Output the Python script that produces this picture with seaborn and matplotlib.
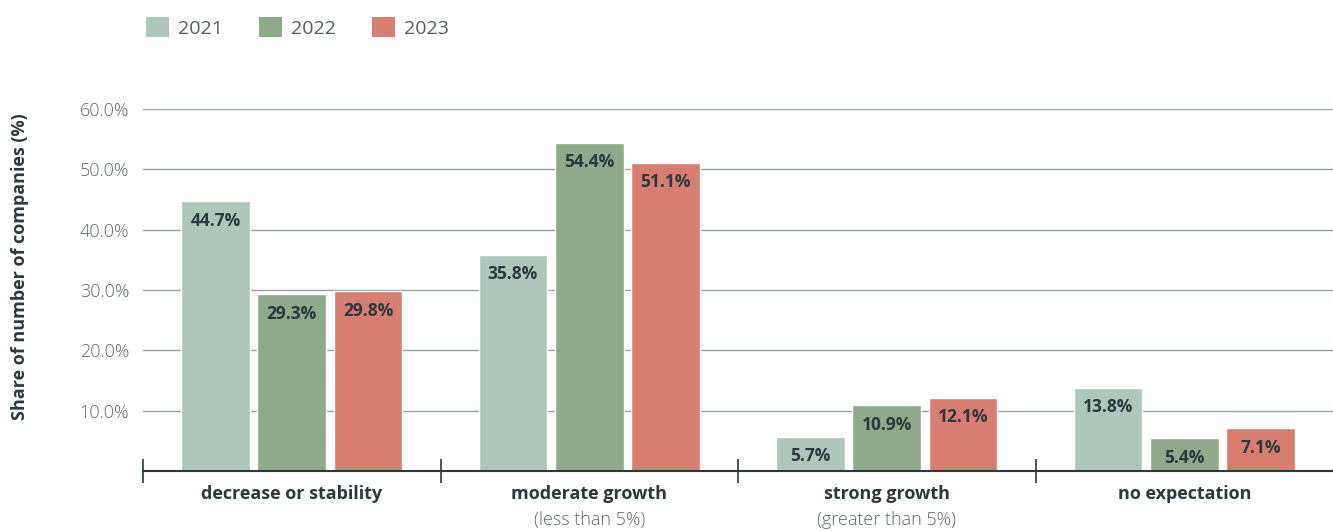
import matplotlib
matplotlib.use("Agg")
import matplotlib.pyplot as plt
import matplotlib.transforms as mtransforms
from matplotlib.patches import Patch
import seaborn as sns
import pandas as pd

categories = ["decrease or stability", "moderate growth", "strong growth", "no expectation"]
subtitles = ["", "(less than 5%)", "(greater than 5%)", ""]
years = ["2021", "2022", "2023"]
values_2021 = [44.7, 35.8, 5.7, 13.8]
values_2022 = [29.3, 54.4, 10.9, 5.4]
values_2023 = [29.8, 51.1, 12.1, 7.1]
yticks = [10, 20, 30, 40, 50, 60]

colors = ["#adc8ba", "#8faa8b", "#d77d72"]
dark = "#2b383d"
gray = "#62696c"

rows = []
for y, vals in zip(years, [values_2021, values_2022, values_2023]):
    for c, v in zip(categories, vals):
        rows.append({"category": c, "year": y, "value": v})
df = pd.DataFrame(rows)

sns.set_style("white")
plt.rcParams["font.family"] = ["Open Sans", "DejaVu Sans"]

fig = plt.figure(figsize=(13.33, 5.31), dpi=100)
ax = fig.add_axes([0.1073, 0.113, 0.8927, 0.6817])

sns.barplot(data=df, x="category", y="value", hue="year", order=categories,
            hue_order=years, palette=colors, width=0.77, gap=0.1,
            saturation=1, ax=ax, legend=False, errorbar=None)

ax.set_xlim(-0.5, 3.5)
ax.set_ylim(0, 60)
ax.set_yticks(yticks)
ax.set_yticklabels([f"{t:.1f}%" for t in yticks], color=gray, fontsize=13, fontweight="light")
ax.yaxis.grid(True, color="#9a9fa1", linewidth=1)
ax.set_axisbelow(True)
ax.tick_params(axis="y", length=0, pad=10)

for s in ["top", "right", "left"]:
    ax.spines[s].set_visible(False)
ax.spines["bottom"].set_color(dark)
ax.spines["bottom"].set_linewidth(1.5)

ax.set_xticks(range(len(categories)))
ax.set_xticklabels(categories, fontsize=13, fontweight="bold", color=dark)
ax.tick_params(axis="x", which="major", length=0, pad=10)
ax.set_xticks([i - 0.5 for i in range(len(categories))], minor=True)
ax.tick_params(axis="x", which="minor", bottom=True, direction="inout", length=17,
               width=1.2, color=dark)

trans = mtransforms.blended_transform_factory(ax.transData, ax.transAxes)
for i, sub in enumerate(subtitles):
    if sub:
        ax.text(i, -0.135, sub, transform=trans, ha="center", va="center",
                fontsize=13, color=gray, fontweight="light")

ax.set_xlabel("")
ax.set_ylabel("Share of number of companies (%)", fontsize=13, fontweight="bold",
              color=dark)
ax.yaxis.set_label_coords(-0.0955, 0.5635)

for cont in ax.containers:
    for bar in cont:
        h = bar.get_height()
        ax.annotate(f"{h:.1f}%", (bar.get_x() + bar.get_width() / 2, h),
                    xytext=(0, -14), textcoords="offset points", ha="center",
                    va="center", fontsize=12.5, fontweight="bold", color=dark)

handles = [Patch(facecolor=c, edgecolor="none") for c in colors]
fig.legend(handles, years, loc="upper left", bbox_to_anchor=(0.0963, 1.0),
           ncol=3, frameon=False, fontsize=14, labelcolor="#555c60",
           handlelength=1.2, handleheight=1.2, columnspacing=1.85, handletextpad=0.45)

fig.savefig("out.png", dpi=100)
